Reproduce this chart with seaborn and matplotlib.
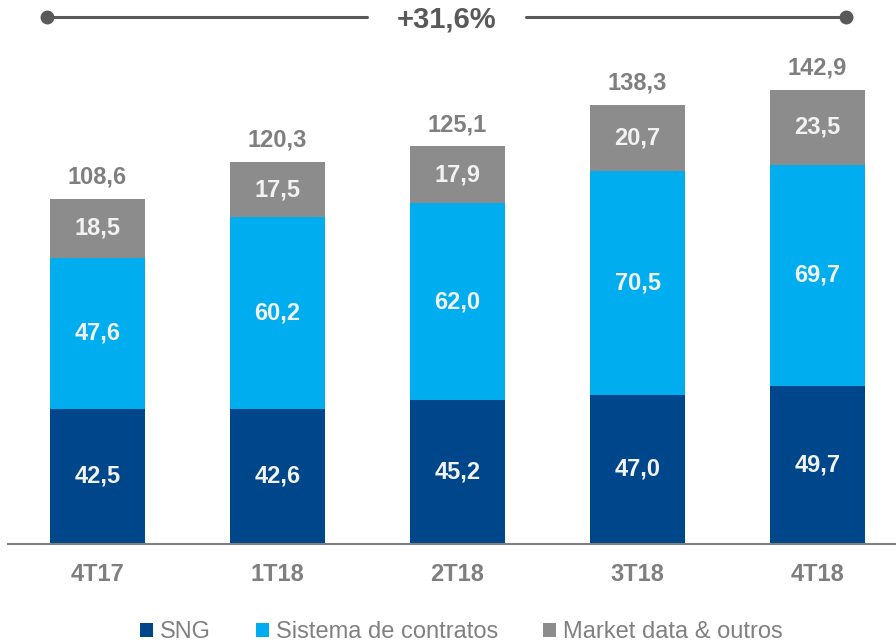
import numpy as np
import pandas as pd
import matplotlib.pyplot as plt
import seaborn as sns

# data
quarters = ["4T17", "1T18", "2T18", "3T18", "4T18"]
sng = [42.5, 42.6, 45.2, 47.0, 49.7]
contratos = [47.6, 60.2, 62.0, 70.5, 69.7]
market = [18.5, 17.5, 17.9, 20.7, 23.5]
totals = [108.6, 120.3, 125.1, 138.3, 142.9]
growth_label = "+31,6%"

series_names = ["SNG", "Sistema de contratos", "Market data & outros"]
colors = ["#00468B", "#00AEEF", "#8C8C8C"]

def fmt(v):
    return f"{v:.1f}".replace(".", ",")

sns.set_style("white")
plt.rcParams["font.family"] = ["Liberation Sans", "DejaVu Sans"]

fig = plt.figure(figsize=(8.96, 6.43), dpi=100)
ax = fig.add_axes([8 / 896, 99 / 643, 888 / 896, 544 / 643])

df = pd.DataFrame({"q": quarters, "SNG": sng, "Sistema de contratos": contratos,
                   "Market data & outros": market})

bottom = np.zeros(len(quarters))
for name, col in zip(series_names, colors):
    vals = df[name].values
    sns.barplot(x=df["q"], y=vals, bottom=bottom, color=col, width=0.53,
                ax=ax, label=name, saturation=1, linewidth=0)
    for i, v in enumerate(vals):
        ax.text(i, bottom[i] + v / 2, fmt(v), ha="center", va="center",
                color="#F2F2F2", fontsize=17, fontweight="bold")
    bottom = bottom + vals

for i, t in enumerate(totals):
    ax.text(i, t + 3.2, fmt(t), ha="center", va="bottom", color="#7F7F7F",
            fontsize=17, fontweight="bold")

ax.set_xlim(-0.497, 4.436)
ax.set_ylim(0, 171.2)

# top growth line
y_line = 165.8
ax.plot([-0.28, 1.5], [y_line, y_line], color="#595959", lw=2.2, clip_on=False)
ax.plot([2.38, 4.16], [y_line, y_line], color="#595959", lw=2.2, clip_on=False)
ax.plot([-0.28, 4.16], [y_line, y_line], "o", color="#595959", ms=9, clip_on=False)
ax.text(1.94, y_line - 0.8, growth_label, ha="center", va="center", color="#595959",
        fontsize=21, fontweight="bold")

ax.set_xlabel("")
ax.set_ylabel("")
ax.set_yticks([])
ax.tick_params(axis="x", length=0, pad=14, labelsize=17, labelcolor="#7F7F7F")
for lab in ax.get_xticklabels():
    lab.set_fontweight("bold")
for s in ["top", "right", "left"]:
    ax.spines[s].set_visible(False)
ax.spines["bottom"].set_color("#7F7F7F")
ax.spines["bottom"].set_linewidth(1.5)

handles, labels = ax.get_legend_handles_labels()
fig.legend(handles, labels, loc="lower center", bbox_to_anchor=(0.515, -0.033),
           ncol=3, frameon=False, fontsize=17, labelcolor="#808080",
           handlelength=0.55, handleheight=0.55, handletextpad=0.3, columnspacing=1.9)
if ax.get_legend():
    ax.get_legend().remove()

fig.savefig("out.png", dpi=100)
